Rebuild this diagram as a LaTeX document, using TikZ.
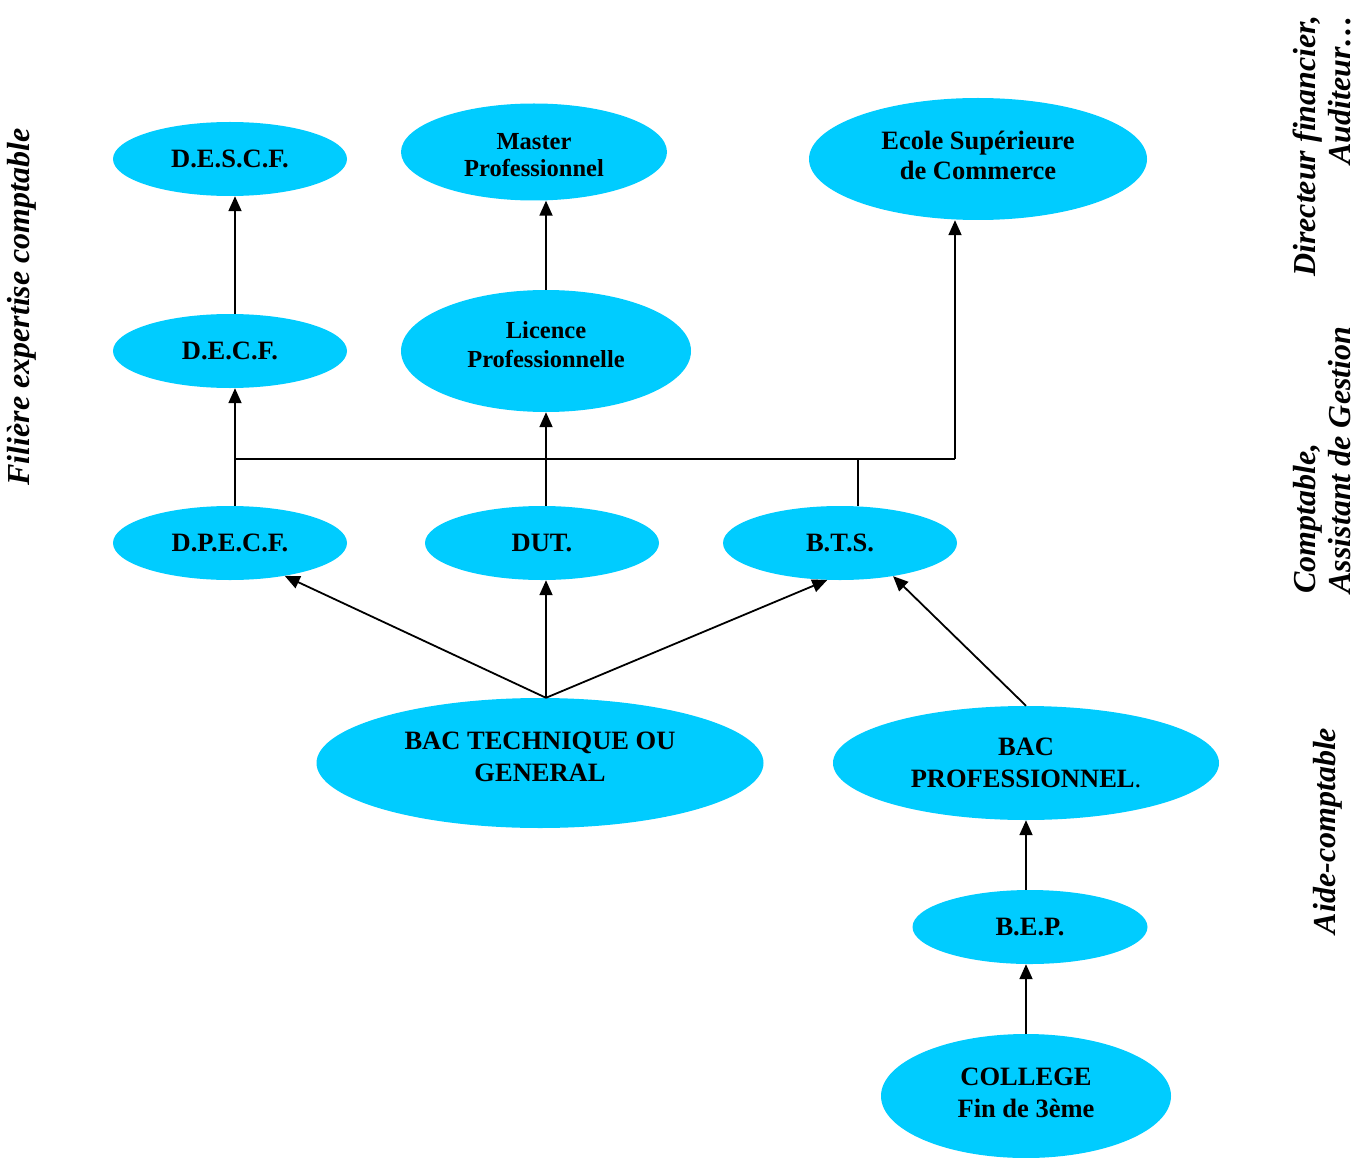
\documentclass[tikz,border=0pt]{standalone}
\usepackage{fontspec}
\setmainfont{Liberation Serif}
\usetikzlibrary{shapes.geometric,arrows.meta}
\definecolor{bub}{RGB}{0,204,255}
\begin{document}
\begin{tikzpicture}[x=1pt,y=-1pt,
  bubble/.style={ellipse,fill=bub,inner sep=0pt,align=center,
    font=\bfseries\fontsize{26.5}{32}\selectfont},
  btext/.style={align=center,inner sep=0pt,font=\bfseries\fontsize{26.5}{32}\selectfont},
  stext/.style={align=center,inner sep=0pt,font=\bfseries\fontsize{24.5}{27}\selectfont},
  conn/.style={line width=1.8pt},
  arr/.style={conn,-{Triangle[length=15pt,width=13pt]}},
  side/.style={rotate=90,font=\bfseries\itshape\fontsize{32}{35}\selectfont}]
\useasboundingbox (0,0) rectangle (1372,1158);
% ellipses
\node[bubble,minimum width=234pt,minimum height=74pt] (descf) at (230,159) {D.E.S.C.F.};
\node[bubble,minimum width=266pt,minimum height=97pt] (mas) at (534,152) {};
\node[stext] (mast) at (534,155) {Master\\Professionnel};
\node[bubble,minimum width=338pt,minimum height=122pt] (esc) at (978,159) {};
\node[btext,font=\bfseries\fontsize{26.5}{30}\selectfont] (esct) at (978,155) {Ecole Supérieure\\de Commerce};
\node[bubble,minimum width=234pt,minimum height=74pt] (decf) at (230,351) {D.E.C.F.};
\node[bubble,minimum width=290pt,minimum height=122pt] (lic) at (546,351) {};
\node[stext,font=\bfseries\fontsize{24.5}{29}\selectfont] (lict) at (546,345) {Licence\\Professionnelle};
\node[bubble,minimum width=234pt,minimum height=74pt] (dpecf) at (230,543) {D.P.E.C.F.};
\node[bubble,minimum width=234pt,minimum height=74pt] (dut) at (542,543) {DUT.};
\node[bubble,minimum width=234pt,minimum height=74pt] (bts) at (840,543) {B.T.S.};
\node[bubble,minimum width=447pt,minimum height=130pt] (bt) at (540,763) {};
\node[btext] (btt) at (540,757) {BAC TECHNIQUE OU\\GENERAL};
\node[bubble,minimum width=386pt,minimum height=114pt] (bp) at (1026,763) {BAC\\PROFESSIONNEL\textmd{.}};
\node[bubble,minimum width=235pt,minimum height=74pt] (bep) at (1030,927) {B.E.P.};
\node[bubble,minimum width=290pt,minimum height=124pt] (col) at (1026,1096) {};
\node[btext] (colt) at (1026,1093) {COLLEGE\\Fin de 3ème};
% side labels
\node[side] (fil) at (22,307) {Filière expertise comptable};
\node[side,align=right,anchor=east] (dir) at (1322,12) {Directeur financier,\\Auditeur\ldots};
\node[side,align=left,anchor=west] (cpt) at (1322,597) {Comptable,\\Assistant de Gestion};
\node[side] (aide) at (1328,831) {Aide-comptable};
% connectors
\coordinate (cl) at ([xshift=5pt]dpecf.north);
\coordinate (cd) at ([xshift=5pt]decf.north);
\coordinate (jl) at (235,459);
\coordinate (jr) at (955,459);
\coordinate (btop) at ([xshift=6pt]bt.north);
\coordinate (btsn) at ([xshift=18pt]bts.north);
\draw[arr] (cd) -- (cd |- descf.south);
\draw[arr] (lic.north) -- (lic.north |- mas.south);
\draw[arr] (cl) -- (cl |- decf.south);
\draw[arr] (lic.south |- dut.north) -- (lic.south);
\draw[conn] (jl) -- (jr);
\draw[arr] (jr) -- (jr |- esc.south);
\draw[conn] (btsn) -- (btsn |- jr);
\draw[arr] (btop) -- (dpecf.-31);
\draw[arr] (btop) -- (btop |- dut.south);
\draw[arr] (btop) -- (bts.-109);
\draw[arr] (bp.north) -- (bts.-32);
\draw[arr] (bp.south |- bep.north) -- (bp.south);
\draw[arr] (col.north) -- (col.north |- bep.south);
\end{tikzpicture}
\end{document}
